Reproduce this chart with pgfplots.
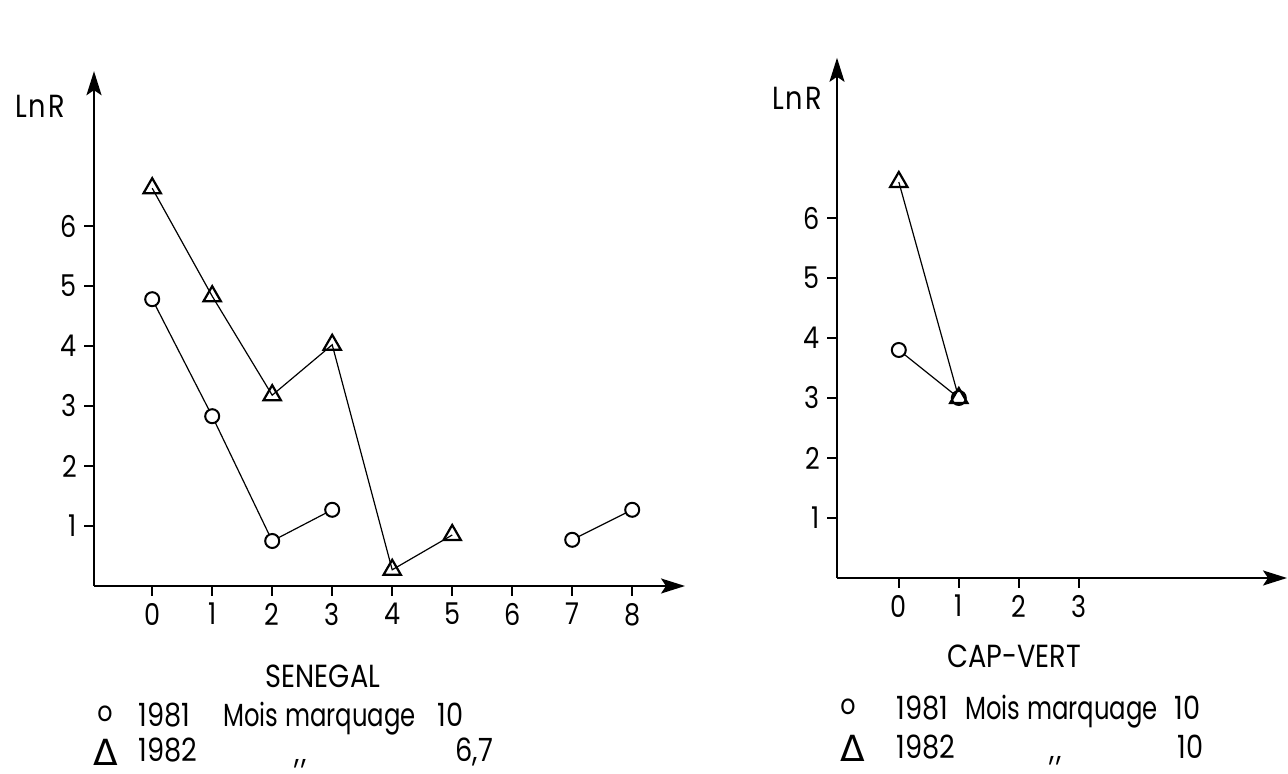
\documentclass[border=0pt]{standalone}
\usepackage{fontspec}
\setmainfont{Poppins}[FakeStretch=0.85]
\newfontfamily\legfont{Poppins}[FakeStretch=0.76]
\newfontfamily\dejavu{DejaVu Sans}
\usepackage{pgfplots}
\pgfplotsset{compat=1.18}
\usetikzlibrary{arrows.meta}
\pgfplotsset{
  mystyle/.style={
    axis lines*=left,
    x=30pt, y=30pt,
    axis line style={line width=1pt, -{Stealth[length=12pt,width=7.5pt,inset=2.5pt]}},
    tick align=outside,
    major tick length=5pt,
    tick style={line width=1pt, black},
    ytick={1,...,6},
    /pgf/number format/assume math mode=true,
    tick label style={font=\fontsize{15}{18}\selectfont},
    clip=false,
  },
  tri/.style={black, line width=0.6pt, mark=triangle, mark size=5pt,
    mark options={solid, fill=white, line width=1.1pt}},
  circ/.style={black, line width=0.6pt, mark=*, mark size=3.5pt,
    mark options={solid, fill=white, line width=1pt}},
}
\begin{document}
\begin{tikzpicture}
\path[use as bounding box] (0,0) rectangle (644pt,387pt);
% ---------- SENEGAL ----------
\begin{axis}[mystyle, at={(47pt,94pt)}, anchor=south west,
  xmin=-0.97, xmax=8.88, ymin=0, ymax=8.58, xtick={0,...,8}]
\addplot[tri] coordinates {(0,6.63) (1,4.83) (2,3.18) (3,4.02) (4,0.27) (5,0.85)};
\addplot[circ] coordinates {(0,4.78) (1,2.83) (2,0.75) (3,1.27)};
\addplot[circ] coordinates {(7,0.77) (8,1.27)};
\end{axis}
% ---------- CAP-VERT ----------
\begin{axis}[mystyle, at={(418.5pt,98pt)}, anchor=south west,
  xmin=-1.03, xmax=6.47, ymin=0, ymax=8.67, xtick={0,...,3}]
\addplot[circ] coordinates {(0,3.8) (1,3.0)};
\addplot[tri, mark options={solid, fill=none, line width=1.1pt}] coordinates {(0,6.6) (1,3.0)};
\end{axis}
% ---------- texts ----------
\begin{scope}[every node/.style={font=\fontsize{16}{19}\selectfont, inner sep=0pt}]
\node at (20pt,334pt) {L\kern1pt n\kern1pt R};
\node at (398.5pt,338pt) {L\kern1pt n\kern1pt R};
\node at (161.5pt,49pt) {SENEGAL};
\node at (507pt,59pt) {CAP-VERT};
% left legend
\node[font=\fontsize{14}{16}\selectfont] at (52.5pt,30pt) {o};
\node[anchor=base west] at (69pt,23.5pt) {1981};
\node[anchor=base west, font=\legfont\fontsize{16}{19}\selectfont] at (111.5pt,23.5pt) {Mois marquage};
\node[anchor=base west] at (218.5pt,23.5pt) {10};
\node[font=\dejavu\fontsize{18}{20}\selectfont] at (53pt,11pt) {Δ};
\node[anchor=base west] at (69pt,6pt) {1982};
\node[anchor=base west] at (147pt,5pt) {{,}\kern1pt{,}};
\node[anchor=base west] at (227.5pt,6pt) {6,7};
% right legend
\node[font=\fontsize{14}{16}\selectfont] at (424pt,33.5pt) {o};
\node[anchor=base west] at (448pt,27pt) {1981};
\node[anchor=base west, font=\legfont\fontsize{16}{19}\selectfont] at (482.5pt,27pt) {Mois marquage};
\node[anchor=base west] at (587pt,27pt) {10};
\node[font=\dejavu\fontsize{18}{20}\selectfont] at (426.5pt,13pt) {Δ};
\node[anchor=base west] at (448pt,7.5pt) {1982};
\node[anchor=base west] at (524.5pt,6.5pt) {{,}\kern1pt{,}};
\node[anchor=base west] at (588.5pt,7.5pt) {10};
\end{scope}
\end{tikzpicture}
\end{document}
